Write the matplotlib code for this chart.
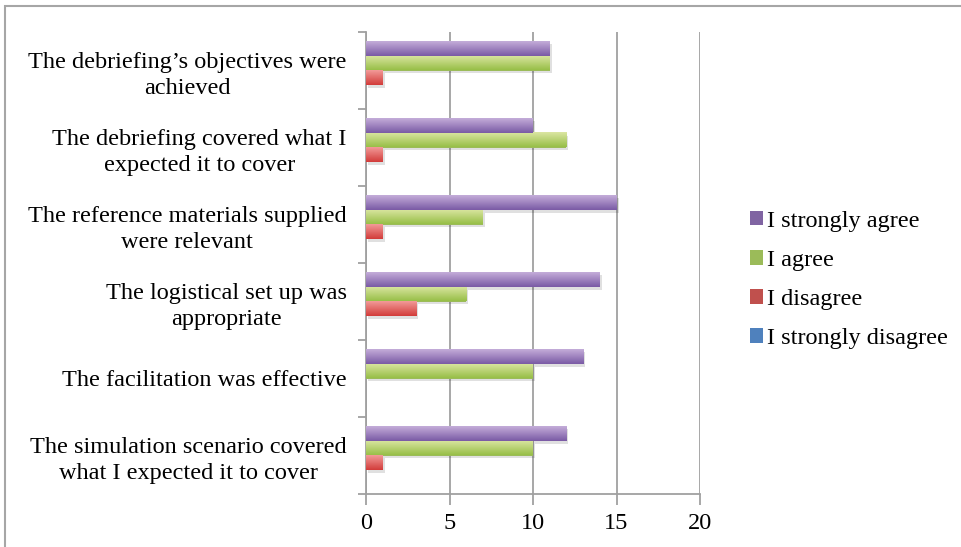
import matplotlib
matplotlib.use('Agg')
import matplotlib.pyplot as plt
from matplotlib.patches import Rectangle
import numpy as np

# statements, top to bottom as shown
categories = [
    'The debriefing\u2019s objectives were\nachieved',
    'The debriefing covered what I\nexpected it to cover',
    'The reference materials supplied\nwere relevant',
    'The logistical set up was\nappropriate',
    'The facilitation was effective',
    'The simulation scenario covered\nwhat I expected it to cover',
]
strongly_disagree = [0, 0, 0, 0, 0, 0]
disagree = [1, 1, 1, 3, 0, 1]
agree = [11, 12, 7, 6, 10, 10]
strongly_agree = [11, 10, 15, 14, 13, 12]

series = [
    ('I strongly disagree', strongly_disagree, '#4F81BD', '#a3c1e8', '#4677b8'),
    ('I disagree', disagree, '#C0504D', '#f29a98', '#d23c3a'),
    ('I agree', agree, '#9BBB59', '#dbe6a2', '#98bf48'),
    ('I strongly agree', strongly_agree, '#8064A2', '#c4add9', '#7a5aa5'),
]

plt.rcParams['font.family'] = ['Liberation Serif', 'DejaVu Serif']
fs = 17.5

fig = plt.figure(figsize=(9.62, 5.47), dpi=100)
ax = fig.add_axes([366 / 962, 1 - 494 / 547, 334 / 962, 462 / 547])

n = len(categories)
ypos = np.arange(n)[::-1]
h = 0.19
offsets = [-1.5 * h, -0.5 * h, 0.5 * h, 1.5 * h]

handles = []
for (name, vals, col, light, dark), off in zip(series, offsets):
    bars = ax.barh(ypos + off, vals, height=h, color=col, label=name, zorder=3)
    handles.append(bars)
    # excel style gradient, light on top
    grad = np.linspace(0, 1, 64)
    c0 = np.array(matplotlib.colors.to_rgb(dark))
    c1 = np.array(matplotlib.colors.to_rgb(light))
    img = (c0[None, :] * (1 - grad[:, None]) + c1[None, :] * grad[:, None])[:, None, :]
    for b in bars:
        w = b.get_width()
        if w <= 0:
            continue
        y0 = b.get_y()
        # little shadow
        ax.add_patch(Rectangle((0.12, y0 - 0.035), w, h, color='#000000', alpha=0.12,
                               zorder=2, lw=0))
        ax.imshow(img, extent=[0, w, y0, y0 + h], origin='lower', aspect='auto',
                  zorder=4, interpolation='bilinear')

ax.set_xlim(0, 20)
ax.set_ylim(-0.5, n - 0.5)
ax.set_xticks([0, 5, 10, 15, 20])
ax.set_yticks(ypos)
ax.set_yticklabels(categories, fontsize=fs)
for lab in ax.get_yticklabels():
    lab.set_multialignment('center')
    lab.set_linespacing(1.3)
ax.set_yticks(np.arange(n + 1) - 0.5, minor=True)
ax.tick_params(axis='y', which='major', length=0, pad=14)
ax.tick_params(axis='y', which='minor', length=6, color='#a0a0a0', width=1.3)
ax.tick_params(axis='x', length=8, color='#a0a0a0', width=1.3, labelsize=fs, pad=6)

ax.grid(axis='x', color='#a0a0a0', lw=1.3, zorder=0)
ax.set_axisbelow(True)
for s in ['top', 'right']:
    ax.spines[s].set_visible(False)
for s in ['left', 'bottom']:
    ax.spines[s].set_color('#a0a0a0')
    ax.spines[s].set_linewidth(1.3)

leg = fig.legend(handles[::-1], [s[0] for s in series][::-1], loc='center left',
                 bbox_to_anchor=(728 / 962, 1 - 280 / 547), frameon=False, fontsize=fs,
                 handlelength=0.55, handleheight=0.55, handletextpad=0.15, labelspacing=0.75)

# outer chart frame
fig.add_artist(Rectangle((5 / 962, -0.1), 1.2, 1 - 6 / 547 + 0.1, transform=fig.transFigure,
                         fill=False, edgecolor='#a6a6a6', lw=1.5))

fig.savefig('out.png', dpi=100)
